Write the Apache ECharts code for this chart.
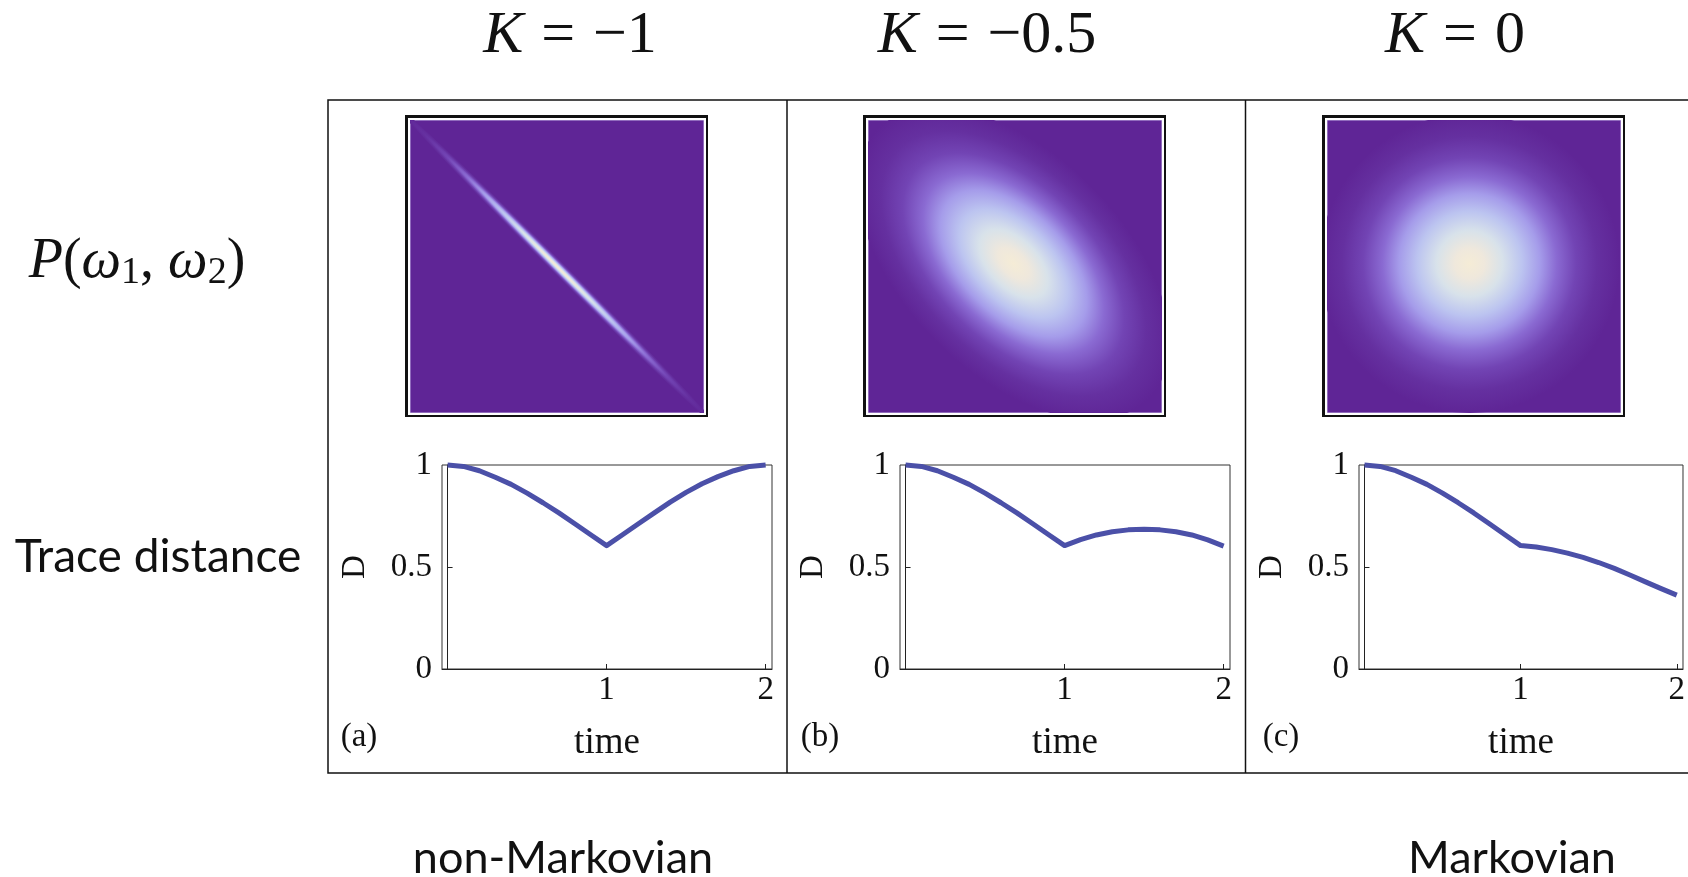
<!DOCTYPE html>
<html>
<head>
<meta charset="utf-8">
<script src="https://cdn.jsdelivr.net/npm/echarts@6/dist/echarts.min.js"></script>
<style>
html, body { margin: 0; padding: 0; background: #fff; }
#main { width: 1688px; height: 877px; }
</style>
</head>
<body>
<div id="main"></div>
<script>
// K shown above each column, and the panel tags
const kValues = ['−1', '−0.5', '0'];
const panelTags = ['(a)', '(b)', '(c)'];

// time samples of the trace distance curves
const timeValues = [0, 0.1, 0.2, 0.3, 0.4, 0.5, 0.6, 0.7, 0.8, 0.9, 1.0,
                    1.1, 1.2, 1.3, 1.4, 1.5, 1.6, 1.7, 1.8, 1.9, 2.0];
const traceA = [1.0, 0.993, 0.972, 0.94, 0.905, 0.862, 0.815, 0.765, 0.712, 0.658, 0.605,
                0.658, 0.712, 0.765, 0.818, 0.866, 0.908, 0.943, 0.972, 0.993, 1.0];
const traceB = [1.0, 0.993, 0.972, 0.94, 0.905, 0.862, 0.815, 0.765, 0.712, 0.658, 0.605,
                0.634, 0.657, 0.673, 0.682, 0.685, 0.682, 0.673, 0.657, 0.633, 0.602];
const traceC = [1.0, 0.993, 0.972, 0.94, 0.905, 0.862, 0.815, 0.765, 0.712, 0.658, 0.605,
                0.598, 0.585, 0.568, 0.547, 0.522, 0.493, 0.461, 0.427, 0.394, 0.362];
const yTicks = [0, 0.5, 1];
const xTicks = [1, 2];

// joint spectrum P(w1,w2): [centre w1, centre w2, reach along axis, reach across, tilt in degrees]
const spectrumA = [0, 0, 1.5, 0.045, -45];
const spectrumB = [-0.01, 0.02, 1.3, 0.75, -45];
const spectrumC = [-0.03, 0.02, 1.02, 1.02, 0];

const traces = [traceA, traceB, traceC];
const spectra = [spectrumA, spectrumB, spectrumC];
const offsets = [0, 458, 917];

const serif = '"Liberation Serif", "DejaVu Serif", serif';
const sans = 'Lato, "Open Sans", sans-serif';
const lineColor = '#4b50a8';
const purple = '#5f2596';

const blobStops = [
    { offset: 0, color: '#f5ecd6' },
    { offset: 0.1, color: '#efe8dc' },
    { offset: 0.22, color: '#d8e2ea' },
    { offset: 0.35, color: '#bcc4f0' },
    { offset: 0.47, color: '#a59cea' },
    { offset: 0.58, color: '#8a6ad2' },
    { offset: 0.71, color: '#7244b4' },
    { offset: 0.85, color: '#6530a0' },
    { offset: 1, color: purple }
];

function renderBlob(params, api) {
    const c = api.coord([api.value(0), api.value(1)]);
    const unit = api.size([1, 1]);
    return {
        type: 'circle',
        x: c[0],
        y: c[1],
        rotation: api.value(4) * Math.PI / 180,
        scaleX: api.value(2) * unit[0] / 100,
        scaleY: api.value(3) * unit[1] / 100,
        shape: { cx: 0, cy: 0, r: 100 },
        style: { fill: new echarts.graphic.RadialGradient(0.5, 0.5, 0.5, blobStops) }
    };
}

const grid = [];
const xAxis = [];
const yAxis = [];
const series = [];
const graphic = [];

offsets.forEach((off, i) => {
    // spectrum square
    grid.push({ left: 410 + off, top: 120, width: 294, height: 293, show: true,
        backgroundColor: purple, borderColor: '#c4b4e4', borderWidth: 1 });
    xAxis.push({ gridIndex: i, type: 'value', min: -1, max: 1, show: false });
    yAxis.push({ gridIndex: i, type: 'value', min: -1, max: 1, show: false });
    series.push({ type: 'custom', xAxisIndex: i, yAxisIndex: i, clip: true,
        renderItem: renderBlob, data: [spectra[i]] });
    graphic.push({ type: 'rect', shape: { x: 406.5 + off, y: 116.5, width: 300, height: 299 },
        style: { fill: null, stroke: '#111', lineWidth: 3 }, z: 10 });
    graphic.push({ type: 'rect', shape: { x: 409 + off, y: 119, width: 296, height: 295 },
        style: { fill: null, stroke: '#fff', lineWidth: 2 }, z: 10 });
});

offsets.forEach((off, i) => {
    const g = i + 3;
    grid.push({ left: 442 + off, top: 465, width: 330, height: 204, show: true,
        borderColor: '#333', borderWidth: 1 });
    xAxis.push({
        gridIndex: g, type: 'value', min: -0.035, max: 2.04,
        axisLine: { lineStyle: { color: '#222', width: 1 } },
        axisTick: { inside: true, length: 5, customValues: xTicks, lineStyle: { color: '#222' } },
        axisLabel: { customValues: xTicks, color: '#111', fontFamily: serif, fontSize: 33, margin: 5 },
        splitLine: { show: false },
        name: 'time', nameLocation: 'middle', nameGap: 56,
        nameTextStyle: { color: '#111', fontFamily: serif, fontSize: 37 }
    });
    yAxis.push({
        gridIndex: g, type: 'value', min: 0, max: 1, interval: 0.5,
        axisLine: { show: true, lineStyle: { color: '#222', width: 1 } },
        axisTick: { show: true, inside: true, length: 5, lineStyle: { color: '#222' } },
        axisLabel: { color: '#111', fontFamily: serif, fontSize: 33, margin: 10,
            customValues: yTicks },
        splitLine: { show: false },
        name: 'D', nameLocation: 'middle', nameRotate: 90, nameGap: 70,
        nameTextStyle: { color: '#111', fontFamily: serif, fontSize: 33 }
    });
    series.push({
        type: 'line', xAxisIndex: g, yAxisIndex: g, showSymbol: false, clip: false,
        data: timeValues.map((t, k) => [t, traces[i][k]]),
        lineStyle: { color: lineColor, width: 5, cap: 'butt', join: 'round' }
    });
});

// column titles
const titleX = [570, 987, 1455];
kValues.forEach((k, i) => {
    graphic.push({
        type: 'text', x: titleX[i], y: 36,
        style: {
            text: '{k|K}{e|=}' + k, fill: '#111', align: 'center', verticalAlign: 'middle',
            fontFamily: serif, fontSize: 60,
            rich: {
                k: { fontFamily: serif, fontSize: 60, fontStyle: 'italic', fill: '#111' },
                e: { fontFamily: serif, fontSize: 60, fill: '#111', padding: [0, 18, 0, 18] }
            }
        }
    });
});

// panel tags
const tagX = [359, 820, 1281];
panelTags.forEach((t, i) => {
    graphic.push({ type: 'text', x: tagX[i], y: 737,
        style: { text: t, fill: '#111', align: 'center', verticalAlign: 'middle',
            fontFamily: serif, fontSize: 33 } });
});

// outer frame and dividers
graphic.push({ type: 'rect', shape: { x: 328, y: 100, width: 1375, height: 673 },
    style: { fill: null, stroke: '#111', lineWidth: 1.5 }, z: 5 });
[787, 1245.5].forEach(x => {
    graphic.push({ type: 'line', shape: { x1: x, y1: 100, x2: x, y2: 773 },
        style: { stroke: '#111', lineWidth: 1.5 }, z: 5 });
});

// row labels
graphic.push({
    type: 'text', x: 137, y: 262,
    style: {
        text: '{i|P}({i|ω}{s|1}, {i|ω}{s|2})', fill: '#111', align: 'center', verticalAlign: 'middle',
        fontFamily: serif, fontSize: 56, lineHeight: 60,
        rich: {
            i: { fontFamily: serif, fontSize: 56, fontStyle: 'italic', fill: '#111', lineHeight: 60 },
            s: { fontFamily: serif, fontSize: 38, fill: '#111', verticalAlign: 'bottom',
                lineHeight: 36, padding: [12, 0, 0, 0] }
        }
    }
});
graphic.push({ type: 'text', x: 158, y: 557,
    style: { text: 'Trace distance', fill: '#111', align: 'center', verticalAlign: 'middle',
        fontFamily: sans, fontSize: 46 } });
graphic.push({ type: 'text', x: 563, y: 858,
    style: { text: 'non-Markovian', fill: '#111', align: 'center', verticalAlign: 'middle',
        fontFamily: sans, fontSize: 45 } });
graphic.push({ type: 'text', x: 1512, y: 858,
    style: { text: 'Markovian', fill: '#111', align: 'center', verticalAlign: 'middle',
        fontFamily: sans, fontSize: 45 } });

const chart = echarts.init(document.getElementById('main'));
chart.setOption({
    backgroundColor: '#fff',
    animation: false,
    grid: grid,
    xAxis: xAxis,
    yAxis: yAxis,
    series: series,
    graphic: graphic
});
</script>
</body>
</html>
